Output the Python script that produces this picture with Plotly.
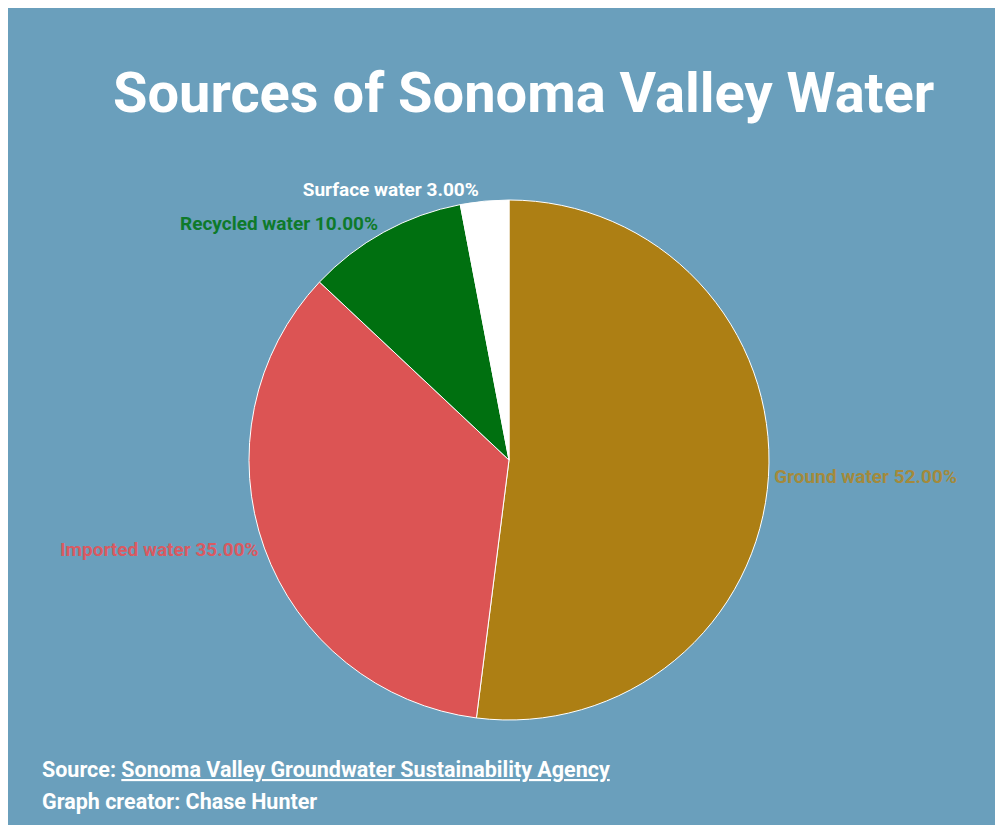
import plotly.graph_objects as go

labels = ["Ground water", "Imported water", "Recycled water", "Surface water"]
values = [52, 35, 10, 3]
slice_colors = ["#ad7f14", "#dc5454", "#007010", "#ffffff"]
label_colors = ["#a38a3c", "#d95a62", "#0e7a2a", "#ffffff"]

BG = "#6a9fbc"
W, H = 1003, 825
OX, OY = 8, 8  # page offset of the figure inside the browser

def px(x):
    return (x - OX) / W

def py(y):
    return 1 - (y - OY) / H

fig = go.Figure()
fig.add_trace(go.Pie(
    labels=labels,
    values=values,
    sort=False,
    direction="clockwise",
    rotation=0,
    marker=dict(colors=slice_colors, line=dict(color="#ffffff", width=1)),
    textposition="outside",
    texttemplate="%{label} %{percent:.2%}",
    outsidetextfont=dict(family="Roboto", size=19, color=label_colors, weight="bold"),
    hoverinfo="label+percent",
    showlegend=False,
    domain=dict(x=[px(249), px(769)], y=[py(720), py(200)]),
))

fig.update_layout(
    width=W, height=H,
    margin=dict(l=0, r=0, t=0, b=0),
    paper_bgcolor=BG,
    plot_bgcolor=BG,
    showlegend=False,
    annotations=[
        dict(text="<b>Sources of Sonoma Valley Water</b>", x=px(523), y=py(93),
             xref="paper", yref="paper", showarrow=False, xanchor="center", yanchor="middle",
             font=dict(family="Roboto", size=56, color="#ffffff")),
        dict(text="<b>Source: <u>Sonoma Valley Groundwater Sustainability Agency</u></b>",
             x=px(40), y=py(769), xref="paper", yref="paper", showarrow=False,
             xanchor="left", yanchor="middle",
             font=dict(family="Roboto", size=21.5, color="#ffffff")),
        dict(text="<b>Graph creator: Chase Hunter</b>",
             x=px(40), y=py(801), xref="paper", yref="paper", showarrow=False,
             xanchor="left", yanchor="middle",
             font=dict(family="Roboto", size=21.5, color="#ffffff")),
    ],
)

fig.write_html("out.html")
